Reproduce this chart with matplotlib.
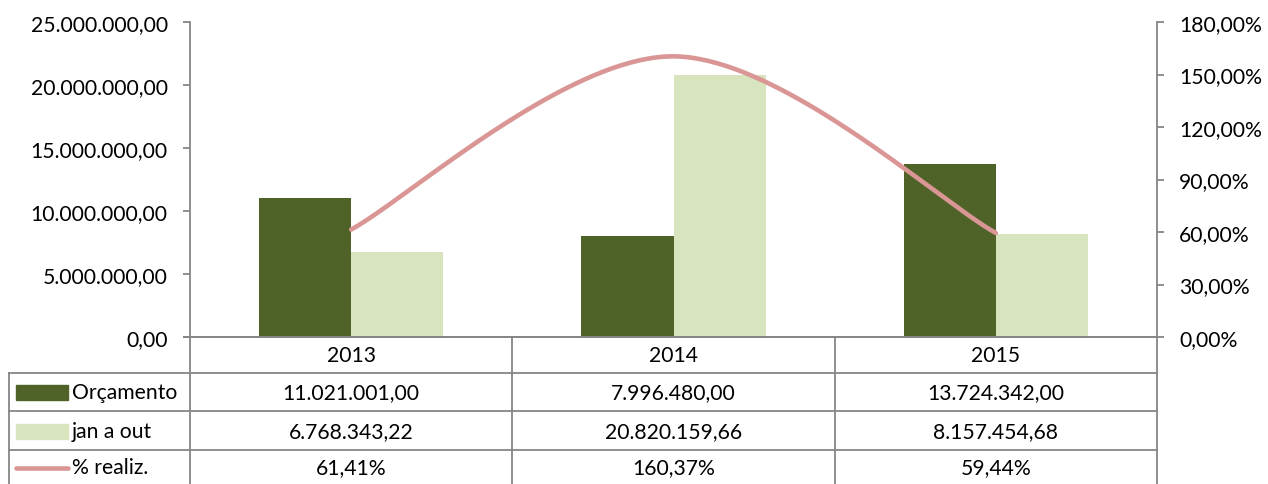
import numpy as np
import matplotlib
matplotlib.use("Agg")
import matplotlib.pyplot as plt
from matplotlib.lines import Line2D
from matplotlib.patches import Rectangle
from matplotlib.ticker import FixedLocator, FuncFormatter

# --- data -------------------------------------------------------------
years = ["2013", "2014", "2015"]
orcamento = [11021001.00, 7996480.00, 13724342.00]
jan_a_out = [6768343.22, 20820159.66, 8157454.68]
realiz = [0.6141, 1.6037, 0.5944]
series_names = ["Orçamento", "jan a out", "% realiz."]
left_ticks = [0, 5e6, 10e6, 15e6, 20e6, 25e6]
right_ticks = [0.0, 0.3, 0.6, 0.9, 1.2, 1.5, 1.8]

# --- style ------------------------------------------------------------
DARK = "#4F6228"
LIGHT = "#D7E4BD"
LINE = "#D99694"
GRID = "#868686"
FONT = "Lato"
FS = 15.2

plt.rcParams["font.family"] = [FONT, "DejaVu Sans"]


def br_number(v, decimals=2):
    s = f"{v:,.{decimals}f}"
    return s.replace(",", "X").replace(".", ",").replace("X", ".")


def br_pct(v):
    return br_number(v * 100) + "%"


W, H = 1268, 485
fig = plt.figure(figsize=(W / 100, H / 100), dpi=100)

# plot area in pixels
x0, x1 = 190, 1157
ytop, ybot = 23, 338
ax = fig.add_axes([x0 / W, (H - ybot) / H, (x1 - x0) / W, (ybot - ytop) / H])
ax2 = ax.twinx()

n = len(years)
xs = np.arange(n)
bw = 0.2855
ax.bar(xs - bw / 2, orcamento, width=bw, color=DARK, zorder=2)
ax.bar(xs + bw / 2, jan_a_out, width=bw, color=LIGHT, zorder=2)
ax.set_xlim(-0.5, n - 0.5)
ax.set_ylim(0, 25e6)

# smoothed percentage line (Catmull-Rom style cubic Bezier segments)
px = xs.astype(float)
py = np.array(realiz)
curve_x, curve_y = [], []
for i in range(n - 1):
    p0 = (px[max(i - 1, 0)], py[max(i - 1, 0)])
    p1 = (px[i], py[i])
    p2 = (px[i + 1], py[i + 1])
    p3 = (px[min(i + 2, n - 1)], py[min(i + 2, n - 1)])
    c1 = (p1[0] + (p2[0] - p0[0]) / 6, p1[1] + (p2[1] - p0[1]) / 6)
    c2 = (p2[0] - (p3[0] - p1[0]) / 6, p2[1] - (p3[1] - p1[1]) / 6)
    t = np.linspace(0, 1, 80)
    bx = (1 - t) ** 3 * p1[0] + 3 * (1 - t) ** 2 * t * c1[0] + 3 * (1 - t) * t ** 2 * c2[0] + t ** 3 * p2[0]
    by = (1 - t) ** 3 * p1[1] + 3 * (1 - t) ** 2 * t * c1[1] + 3 * (1 - t) * t ** 2 * c2[1] + t ** 3 * p2[1]
    curve_x.extend(bx)
    curve_y.extend(by)
ax2.plot(curve_x, curve_y, color=LINE, lw=3.3, solid_capstyle="round", zorder=3)
ax2.set_ylim(0, 1.8)
ax2.set_zorder(ax.get_zorder() + 1)
ax2.patch.set_visible(False)

# axes styling
for a in (ax, ax2):
    a.spines["top"].set_visible(False)
    for s in ("left", "right", "bottom"):
        a.spines[s].set_color(GRID)
        a.spines[s].set_linewidth(1.3)
ax.spines["right"].set_visible(False)
ax2.spines["left"].set_visible(False)
ax2.spines["bottom"].set_visible(False)

ax.set_xticks([])
ax.yaxis.set_major_locator(FixedLocator(left_ticks))
ax.yaxis.set_major_formatter(FuncFormatter(lambda v, p: br_number(v)))
ax.tick_params(axis="y", direction="out", length=5, width=1.3, color=GRID,
               pad=11, labelsize=FS, labelcolor="#000000")
ax2.yaxis.set_major_locator(FixedLocator(right_ticks))
ax2.yaxis.set_major_formatter(FuncFormatter(lambda v, p: br_pct(v)))
ax2.tick_params(axis="y", direction="out", length=5, width=1.3, color=GRID,
                pad=11, labelsize=FS, labelcolor="#000000")
for lab in ax.get_yticklabels() + ax2.get_yticklabels():
    lab.set_family([FONT, "DejaVu Sans"])


# --- data table below the plot ---------------------------------------
def fx(x):
    return x / W


def fy(y):
    return 1 - y / H


def hline(y, xa, xb):
    fig.add_artist(Line2D([fx(xa), fx(xb)], [fy(y), fy(y)], color=GRID, lw=1.3))


def vline(x, ya, yb):
    fig.add_artist(Line2D([fx(x), fx(x)], [fy(ya), fy(yb)], color=GRID, lw=1.3))


col_edges = np.linspace(x0, x1, n + 1)
row_lines = [374, 412, 451]
leg_left = 9
hline(ybot, 184, x1)
for y in row_lines:
    hline(y, leg_left, x1)
for x in col_edges:
    vline(x, ybot, H + 2)
vline(leg_left, row_lines[0], H + 2)

header_y = 356
row_y = [393, 432, 468]
centers = (col_edges[:-1] + col_edges[1:]) / 2
for c, yr in zip(centers, years):
    fig.text(fx(c), fy(header_y), yr, ha="center", va="center", fontsize=FS)

rows = [
    [br_number(v) for v in orcamento],
    [br_number(v) for v in jan_a_out],
    [br_pct(v) for v in realiz],
]
for ry, vals in zip(row_y, rows):
    for c, v in zip(centers, vals):
        fig.text(fx(c), fy(ry), v, ha="center", va="center", fontsize=FS)

# legend keys and names
fig.add_artist(Rectangle((fx(16), fy(401)), fx(68) - fx(16), fy(386) - fy(401),
                         color=DARK, transform=fig.transFigure))
fig.add_artist(Rectangle((fx(16), fy(440)), fx(68) - fx(16), fy(425) - fy(440),
                         color=LIGHT, transform=fig.transFigure))
fig.add_artist(Line2D([fx(16), fx(68)], [fy(469), fy(469)], color=LINE, lw=3.3,
                      solid_capstyle="round"))
for ry, name in zip(row_y, series_names):
    fig.text(fx(72), fy(ry), name, ha="left", va="center", fontsize=FS)

fig.savefig("out.png", dpi=100, facecolor="white")
